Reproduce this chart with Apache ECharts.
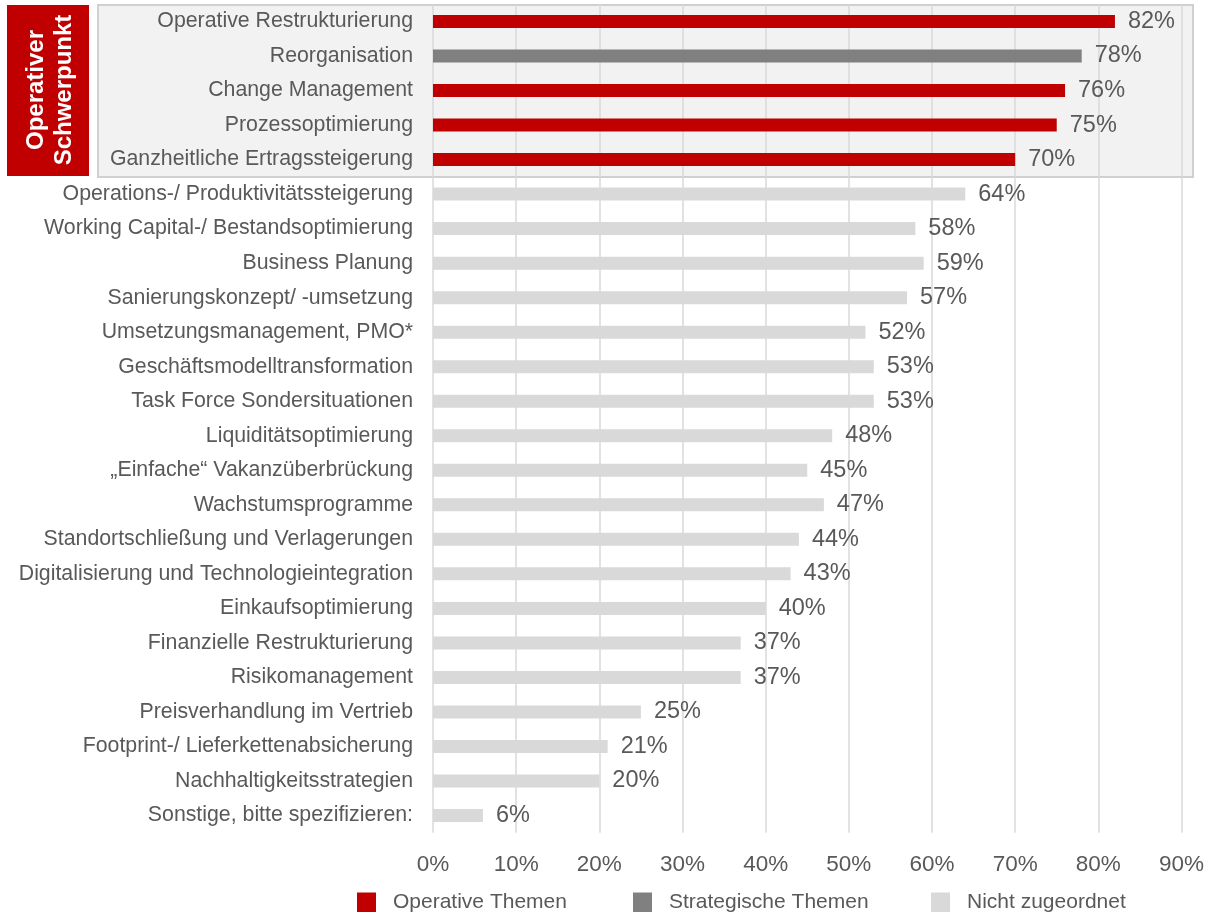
<!DOCTYPE html>
<html>
<head>
<meta charset="utf-8">
<script src="https://cdn.jsdelivr.net/npm/echarts@6/dist/echarts.min.js"></script>
<style>
html,body{margin:0;padding:0;background:#fff;}
#chart{width:1207px;height:912px;}
</style>
</head>
<body>
<div id="chart"></div>
<script>
const categories = [
  'Operative Restrukturierung',
  'Reorganisation',
  'Change Management',
  'Prozessoptimierung',
  'Ganzheitliche Ertragssteigerung',
  'Operations-/ Produktivitätssteigerung',
  'Working Capital-/ Bestandsoptimierung',
  'Business Planung',
  'Sanierungskonzept/ -umsetzung',
  'Umsetzungsmanagement, PMO*',
  'Geschäftsmodelltransformation',
  'Task Force Sondersituationen',
  'Liquiditätsoptimierung',
  '„Einfache“ Vakanzüberbrückung',
  'Wachstumsprogramme',
  'Standortschließung und Verlagerungen',
  'Digitalisierung und Technologieintegration',
  'Einkaufsoptimierung',
  'Finanzielle Restrukturierung',
  'Risikomanagement',
  'Preisverhandlung im Vertrieb',
  'Footprint-/ Lieferkettenabsicherung',
  'Nachhaltigkeitsstrategien',
  'Sonstige, bitte spezifizieren:'
];
const operativeThemen = [82, '-', 76, 75, 70, '-', '-', '-', '-', '-', '-', '-', '-', '-', '-', '-', '-', '-', '-', '-', '-', '-', '-', '-'];
const strategischeThemen = ['-', 78, '-', '-', '-', '-', '-', '-', '-', '-', '-', '-', '-', '-', '-', '-', '-', '-', '-', '-', '-', '-', '-', '-'];
const nichtZugeordnet = ['-', '-', '-', '-', '-', 64, 58, 59, 57, 52, 53, 53, 48, 45, 47, 44, 43, 40, 37, 37, 25, 21, 20, 6];
const xTicks = [0, 10, 20, 30, 40, 50, 60, 70, 80, 90];
const seriesNames = ['Operative Themen', 'Strategische Themen', 'Nicht zugeordnet'];
const highlightLabel = 'Operativer\nSchwerpunkt';

const FONT = '"Liberation Sans", Arial, sans-serif';
const TXT = '#595959';
const colors = ['#c00000', '#808080', '#d9d9d9'];

function barSeries(name, data, color) {
  return {
    name: name,
    type: 'bar',
    stack: 'all',
    data: data,
    barWidth: 13,
    itemStyle: { color: color },
    label: {
      show: true,
      position: 'right',
      distance: 13,
      color: TXT,
      fontSize: 23.5,
      fontFamily: FONT,
      formatter: p => p.value + '%'
    },
    emphasis: { disabled: true },
    animation: false
  };
}

function legendItem(name, left) {
  return {
    data: [name],
    left: left,
    top: 892,
    padding: 0,
    icon: 'rect',
    itemWidth: 19,
    itemHeight: 20,
    selectedMode: false,
    textStyle: { color: TXT, fontSize: 21, fontFamily: FONT, padding: [0, 0, 0, 12] }
  };
}

const chart = echarts.init(document.getElementById('chart'), null, { renderer: 'canvas' });
chart.setOption({
  animation: false,
  backgroundColor: '#ffffff',
  textStyle: { fontFamily: FONT },
  grid: { left: 433, right: 25.3, top: 4.2, bottom: 79.2, containLabel: false },
  xAxis: {
    type: 'value',
    min: xTicks[0],
    max: xTicks[xTicks.length - 1],
    interval: 10,
    axisLine: { show: false },
    axisTick: { show: false },
    splitLine: { show: true, lineStyle: { color: '#d9d9d9', width: 1.5 } },
    axisLabel: { color: TXT, fontSize: 22.5, fontFamily: FONT, margin: 20, formatter: '{value}%' }
  },
  yAxis: {
    type: 'category',
    inverse: true,
    data: categories,
    axisLine: { show: false },
    axisTick: { show: false },
    splitLine: { show: false },
    axisLabel: { color: TXT, fontSize: 21.3, fontFamily: FONT, margin: 20 }
  },
  legend: [
    legendItem(seriesNames[0], 357),
    legendItem(seriesNames[1], 633),
    legendItem(seriesNames[2], 931)
  ],
  graphic: [
    {
      type: 'rect', z: -1, silent: true,
      shape: { x: 98, y: 5, width: 1095, height: 172 },
      style: { fill: '#f2f2f2', stroke: '#d0d0d0', lineWidth: 2 }
    },
    {
      type: 'rect', z: 5, silent: true,
      shape: { x: 7, y: 5, width: 82, height: 171 },
      style: { fill: '#c00000' }
    },
    {
      type: 'text', z: 6, silent: true,
      x: 50, y: 90, rotation: Math.PI / 2,
      style: {
        text: highlightLabel,
        fill: '#ffffff',
        font: 'bold 24px ' + FONT,
        align: 'center',
        verticalAlign: 'middle',
        lineHeight: 28
      }
    }
  ],
  series: [
    barSeries(seriesNames[0], operativeThemen, colors[0]),
    barSeries(seriesNames[1], strategischeThemen, colors[1]),
    barSeries(seriesNames[2], nichtZugeordnet, colors[2])
  ]
});
</script>
</body>
</html>
